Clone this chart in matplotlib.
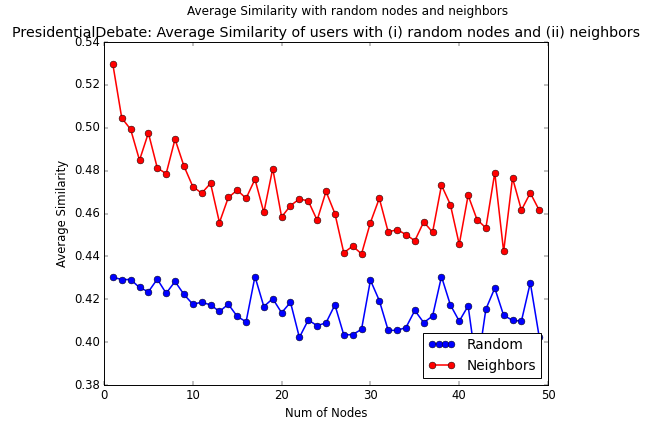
import numpy as np
import matplotlib
matplotlib.use("Agg")
import matplotlib.pyplot as plt
from matplotlib.legend_handler import HandlerLine2D

plt.style.use('classic')

# number of nodes sampled
nodes = np.arange(1, 50)

# average similarity with random nodes
random_sim = [0.4303, 0.4292, 0.4292, 0.4255, 0.4235, 0.4294, 0.4228, 0.4283, 0.4223, 0.4177,
              0.4186, 0.4174, 0.4143, 0.4177, 0.4120, 0.4095, 0.4306, 0.4166, 0.4203, 0.4137,
              0.4186, 0.4022, 0.4103, 0.4077, 0.4090, 0.4174, 0.4034, 0.4035, 0.4060, 0.4289,
              0.4194, 0.4055, 0.4055, 0.4068, 0.4148, 0.4091, 0.4122, 0.4306, 0.4174, 0.4098,
              0.4169, 0.3870, 0.4154, 0.4252, 0.4125, 0.4102, 0.4098, 0.4277, 0.4026]

# average similarity with neighbors
neighbor_sim = [0.5296, 0.5046, 0.4993, 0.4849, 0.4976, 0.4813, 0.4786, 0.4947, 0.4822, 0.4726,
                0.4695, 0.4741, 0.4558, 0.4675, 0.4709, 0.4671, 0.4760, 0.4605, 0.4810, 0.4584,
                0.4637, 0.4668, 0.4659, 0.4569, 0.4703, 0.4600, 0.4417, 0.4448, 0.4412, 0.4558,
                0.4671, 0.4514, 0.4525, 0.4502, 0.4473, 0.4561, 0.4513, 0.4732, 0.4642, 0.4456,
                0.4685, 0.4572, 0.4533, 0.4790, 0.4423, 0.4766, 0.4616, 0.4696, 0.4616]

dpi = 70
fig = plt.figure(figsize=(654 / dpi, 421 / dpi), dpi=dpi, facecolor='white')
ax = fig.add_axes([0.159, 0.0855, 0.679, 0.8145])

style = dict(markeredgecolor='k', markeredgewidth=0.5, linewidth=1.6, markersize=7)
l_rand, = ax.plot(nodes, random_sim, 'bo-', label='Random', **style)
l_nb, = ax.plot(nodes, neighbor_sim, 'ro-', label='Neighbors', **style)

ax.set_xlim(0, 50)
ax.set_ylim(0.38, 0.54)
ax.set_xticks(np.arange(0, 51, 10))
ax.set_yticks(np.arange(0.38, 0.541, 0.02))
ax.tick_params(labelsize=12)
ax.set_xlabel('Num of Nodes', fontsize=12)
ax.set_ylabel('Average Similarity', fontsize=12)
ax.set_title('PresidentialDebate: Average Similarity of users with (i) random nodes and (ii) neighbors',
             fontsize=14.7)
fig.suptitle('Average Similarity with random nodes and neighbors', fontsize=12.3, x=0.531, y=0.988)

ax.legend(loc='lower right', fontsize=14, handler_map={l_rand: HandlerLine2D(numpoints=4)})

fig.savefig('out.png', dpi=dpi, facecolor='white')
